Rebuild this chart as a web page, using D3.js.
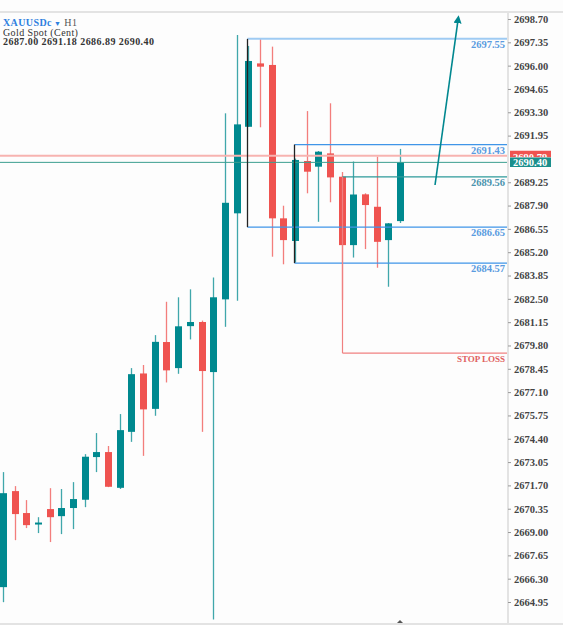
<!DOCTYPE html>
<html lang="en">
<head>
	<meta charset="utf-8">
	<title>XAUUSDc H1</title>
	<style>
		body { margin: 0; background: #fdfdfd; }
		svg { display: block; font-family: "Liberation Serif", serif; }
	</style>
</head>
<body>
	<div id="chart"></div>

	<script src="https://cdn.jsdelivr.net/npm/d3@7/dist/d3.min.js"></script>
	<script>
		// candle data (H1), oldest first
		var opens  = [2665.81, 2671.37, 2670.10, 2669.49, 2670.33, 2669.92, 2670.39, 2670.87, 2673.34, 2673.63,
		              2671.56, 2674.80, 2678.18, 2676.13, 2680.00, 2678.49, 2680.92, 2681.16, 2678.26, 2682.47,
		              2687.45, 2692.46, 2696.13, 2696.04, 2687.16, 2685.85, 2690.48, 2690.15, 2690.92, 2689.57,
		              2685.61, 2688.55, 2687.83, 2685.90, 2687.00];
		var highs  = [2672.47, 2671.66, 2670.85, 2669.86, 2671.54, 2671.49, 2671.89, 2673.51, 2674.73, 2673.98,
		              2675.83, 2678.49, 2678.67, 2680.40, 2682.33, 2682.59, 2683.05, 2681.24, 2683.74, 2693.24,
		              2697.77, 2697.14, 2697.58, 2697.10, 2687.89, 2690.62, 2693.37, 2691.06, 2693.82, 2689.84,
		              2690.45, 2688.61, 2690.73, 2686.89, 2691.18];
		var lows   = [2664.94, 2668.53, 2669.23, 2668.94, 2668.42, 2668.88, 2669.17, 2670.44, 2672.47, 2671.60,
		              2671.49, 2674.22, 2673.41, 2675.73, 2677.66, 2678.16, 2680.15, 2674.80, 2663.94, 2680.88,
		              2682.39, 2692.46, 2692.43, 2684.94, 2684.50, 2684.60, 2688.61, 2686.96, 2688.09, 2682.43,
		              2684.89, 2685.38, 2684.30, 2683.20, 2686.89];
		var closes = [2671.25, 2670.04, 2669.40, 2669.55, 2669.86, 2670.39, 2670.91, 2673.36, 2673.63, 2671.62,
		              2674.90, 2678.14, 2676.10, 2680.01, 2678.36, 2680.91, 2681.16, 2678.32, 2682.59, 2688.06,
		              2692.60, 2696.27, 2695.94, 2687.16, 2685.90, 2690.54, 2689.86, 2691.02, 2689.53, 2685.61,
		              2688.54, 2687.93, 2685.80, 2686.87, 2690.40];

		// price axis labels
		var tickValues = [2698.70, 2697.35, 2696.00, 2694.65, 2693.30, 2691.95, 2689.25, 2687.90, 2686.55,
		                  2685.20, 2683.85, 2682.50, 2681.15, 2679.80, 2678.45, 2677.10, 2675.75, 2674.40,
		                  2673.05, 2671.70, 2670.35, 2669.00, 2667.65, 2666.30, 2664.95];

		// drawn levels
		var levelPrices = [2697.55, 2691.43, 2686.65, 2684.57];
		var levelStart  = [21, 25, 21, 25];   // candle index where each level starts
		var entryPrice = 2689.56, stopPrice = 2679.36, entryIndex = 29;
		var askPrice = 2690.79, bidPrice = 2690.40;
		var arrowFrom = {i: 37.0, p: 2689.09}, arrowTo = {i: 38.95, p: 2698.90};

		var upColor = "#00898f", downColor = "#ef5350";

		var W = 563, H = 625;
		var plotTop = 12, plotBottom = 624, plotRight = 508;

		var data = opens.map(function(o, i) {
			return {i: i, open: o, high: highs[i], low: lows[i], close: closes[i]};
		});

		var x = d3.scaleLinear().domain([0, 34]).range([3, 400]);
		var y = d3.scaleLinear().domain([2664.95, 2698.70]).range([602, 19]);

		var svg = d3.select("#chart")
			.append("svg")
			.attr("width", W)
			.attr("height", H);

		svg.append("rect").attr("width", W).attr("height", H).attr("fill", "#fdfdfd");

		var defs = svg.append("defs");
		defs.append("clipPath").attr("id", "plot")
			.append("rect")
			.attr("x", 0).attr("y", plotTop)
			.attr("width", plotRight).attr("height", plotBottom - plotTop);
		defs.append("clipPath").attr("id", "asktag")
			.append("rect")
			.attr("x", 510).attr("y", 150.5)
			.attr("width", 41).attr("height", 7);

		var plot = svg.append("g").attr("clip-path", "url(#plot)");

		// frame lines
		svg.append("line").attr("x1", 0).attr("x2", W).attr("y1", plotTop).attr("y2", plotTop)
			.attr("stroke", "#e3e3e3").attr("stroke-width", 2);
		svg.append("line").attr("x1", 0).attr("x2", W).attr("y1", plotBottom).attr("y2", plotBottom)
			.attr("stroke", "#e3e3e3").attr("stroke-width", 2);
		svg.append("line").attr("x1", plotRight).attr("x2", plotRight).attr("y1", plotTop).attr("y2", plotBottom)
			.attr("stroke", "#e3e3e3").attr("stroke-width", 2);

		// candles
		var candle = plot.selectAll(".candle")
			.data(data)
			.enter().append("g")
			.attr("class", "candle");

		candle.append("line")
			.attr("x1", function(d) { return Math.round(x(d.i)) + 0.5; })
			.attr("x2", function(d) { return Math.round(x(d.i)) + 0.5; })
			.attr("y1", function(d) { return y(d.high); })
			.attr("y2", function(d) { return y(d.low); })
			.attr("stroke", function(d) { return d.close >= d.open ? upColor : downColor; })
			.attr("stroke-opacity", 0.75)
			.attr("stroke-width", 1.3);

		candle.append("rect")
			.attr("x", function(d) { return Math.round(x(d.i)) - 3; })
			.attr("width", 7)
			.attr("y", function(d) { return y(Math.max(d.open, d.close)); })
			.attr("height", function(d) { return Math.max(2, Math.abs(y(d.open) - y(d.close))); })
			.attr("fill", function(d) { return d.close >= d.open ? upColor : downColor; });

		// current price lines
		plot.append("line").attr("x1", 0).attr("x2", plotRight)
			.attr("y1", y(askPrice)).attr("y2", y(askPrice))
			.attr("stroke", "#f7b3b0").attr("stroke-width", 2);
		plot.append("line").attr("x1", 0).attr("x2", plotRight)
			.attr("y1", y(bidPrice)).attr("y2", y(bidPrice))
			.attr("stroke", "#3a9e8f").attr("stroke-width", 1);

		// level lines with labels
		levelPrices.forEach(function(p, k) {
			var x0 = Math.round(x(levelStart[k])) - 0.5;
			plot.append("line")
				.attr("x1", x0).attr("x2", plotRight)
				.attr("y1", y(p)).attr("y2", y(p))
				.attr("stroke", k === 0 ? "#9fcbf3" : "#3f95e8")
				.attr("stroke-width", k === 0 ? 2 : 1.3);
			svg.append("text")
				.attr("x", 505).attr("y", y(p) + 9)
				.attr("text-anchor", "end")
				.attr("font-size", 10.5).attr("font-weight", "bold")
				.attr("fill", "#5a9be0")
				.text(p.toFixed(2));
		});

		// black left edges of the two boxes
		[[21, 0, 2], [25, 1, 3]].forEach(function(b) {
			var xx = Math.round(x(b[0])) - 0.5;
			plot.append("line")
				.attr("x1", xx).attr("x2", xx)
				.attr("y1", y(levelPrices[b[1]])).attr("y2", y(levelPrices[b[2]]))
				.attr("stroke", "#222").attr("stroke-width", 1.3);
		});

		// entry / stop loss
		var ex = Math.round(x(entryIndex)) + 0.5;
		plot.append("line").attr("x1", ex).attr("x2", plotRight)
			.attr("y1", y(entryPrice)).attr("y2", y(entryPrice))
			.attr("stroke", "#2c9a9a").attr("stroke-width", 1.3);
		svg.append("text")
			.attr("x", 505).attr("y", y(entryPrice) + 9)
			.attr("text-anchor", "end")
			.attr("font-size", 10.5).attr("font-weight", "bold")
			.attr("fill", "#4b93ad")
			.text(entryPrice.toFixed(2));
		plot.append("line").attr("x1", ex).attr("x2", ex)
			.attr("y1", y(entryPrice)).attr("y2", y(stopPrice))
			.attr("stroke", "#f08080").attr("stroke-width", 1.2);
		plot.append("line").attr("x1", ex).attr("x2", plotRight)
			.attr("y1", y(stopPrice)).attr("y2", y(stopPrice))
			.attr("stroke", "#f08080").attr("stroke-width", 1.2);
		svg.append("text")
			.attr("x", 505).attr("y", y(stopPrice) + 8.5)
			.attr("text-anchor", "end")
			.attr("font-size", 9).attr("font-weight", "bold")
			.attr("fill", "#e06060")
			.text("STOP LOSS");

		// arrow
		defs.append("marker")
			.attr("id", "head")
			.attr("viewBox", "0 0 10 10")
			.attr("refX", 2).attr("refY", 5)
			.attr("markerWidth", 5).attr("markerHeight", 5)
			.attr("orient", "auto")
			.append("path").attr("d", "M0,0L10,5L0,10Z").attr("fill", "#00878f");
		plot.append("line")
			.attr("x1", x(arrowFrom.i)).attr("y1", y(arrowFrom.p))
			.attr("x2", x(arrowTo.i)).attr("y2", y(arrowTo.p) + 6)
			.attr("stroke", "#00878f").attr("stroke-width", 1.6)
			.attr("marker-end", "url(#head)");

		// price axis
		var axis = svg.append("g")
			.attr("transform", "translate(" + plotRight + ",0)")
			.call(d3.axisRight(y).tickValues(tickValues).tickSize(3).tickPadding(3)
				.tickFormat(function(d) { return d.toFixed(2); }));
		axis.select(".domain").remove();
		axis.selectAll(".tick line").attr("stroke", "#999");
		axis.selectAll(".tick text")
			.attr("font-family", "Liberation Serif, serif")
			.attr("font-size", 10.5).attr("font-weight", "bold")
			.attr("fill", "#444");

		// price tags (bid tag drawn over the ask tag)
		var ask = svg.append("g").attr("clip-path", "url(#asktag)");
		ask.append("rect").attr("x", 510).attr("y", 150.5).attr("width", 41).attr("height", 7).attr("fill", "#ef5350");
		ask.append("text").attr("x", 513).attr("y", 160.5)
			.attr("font-size", 10.5).attr("font-weight", "bold").attr("fill", "#fff")
			.text(askPrice.toFixed(2));
		svg.append("rect").attr("x", 510).attr("y", 157.5).attr("width", 41).attr("height", 9.5).attr("fill", "#1a8f8c");
		svg.append("text").attr("x", 513).attr("y", 165.5)
			.attr("font-size", 10.5).attr("font-weight", "bold").attr("fill", "#fff")
			.text(bidPrice.toFixed(2));

		// header
		var head = svg.append("text").attr("x", 3).attr("y", 26).attr("font-size", 10).attr("letter-spacing", 0.4);
		head.append("tspan").attr("fill", "#2e7fe0").attr("font-weight", "bold").text("XAUUSDc");
		head.append("tspan").attr("fill", "#2e7fe0").attr("font-size", 7).text(" \u25BC");
		head.append("tspan").attr("fill", "#555").text(" H1");
		svg.append("text").attr("x", 3).attr("y", 35.5).attr("font-size", 10).attr("letter-spacing", 0.4)
			.attr("fill", "#333").text("Gold Spot (Cent)");
		svg.append("text").attr("x", 3).attr("y", 45).attr("font-size", 10).attr("letter-spacing", 0.45)
			.attr("font-weight", "bold")
			.attr("fill", "#333").text([opens[34], highs[34], lows[34], closes[34]].map(function(v) { return v.toFixed(2); }).join(" "));

		// small time marker at the bottom
		svg.append("path")
			.attr("d", "M" + (x(34) - 3) + "," + (plotBottom - 1) + "L" + x(34) + "," + (plotBottom - 4) + "L" + (x(34) + 3) + "," + (plotBottom - 1) + "Z")
			.attr("fill", "#555");
	</script>
</body>
</html>
